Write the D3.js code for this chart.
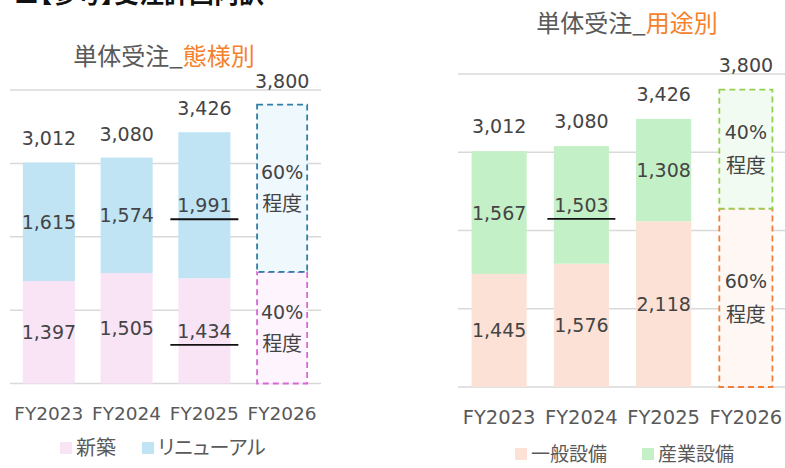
<!DOCTYPE html>
<html>
<head>
<meta charset="utf-8">
<script src="https://cdn.jsdelivr.net/npm/d3@7"></script>
<style>
body { margin: 0; background: #fff; }
svg { display: block; font-family: "DejaVu Sans", "Noto Sans CJK JP", sans-serif; }
.jp { font-family: "Noto Sans CJK JP", sans-serif; font-feature-settings: "palt"; }
</style>
</head>
<body>
<svg width="785" height="468"></svg>
<script>
// data
var years = ["FY2023", "FY2024", "FY2025", "FY2026"];
var ticks = [0, 1000, 2000, 3000, 4000];

// left: by type
var shinchiku = [1397, 1505, 1434];
var renewal = [1615, 1574, 1991];
var totalsL = [3012, 3080, 3426, 3800];
var planShareL = [0.4, 0.6];          // 新築, リニューアル for FY2026
var planLabelL = ["40%", "60%"];
var underlineL = [["FY2025", 0], ["FY2025", 1]];

// right: by use
var ippan = [1445, 1576, 2118];
var sangyo = [1567, 1503, 1308];
var totalsR = [3012, 3080, 3426, 3800];
var planShareR = [0.6, 0.4];          // 一般設備, 産業設備 for FY2026
var planLabelR = ["60%", "40%"];
var underlineR = [["FY2024", 1]];

var svg = d3.select("svg");
var txt = "#444";

svg.append("text").attr("x", 14).attr("y", 3)
  .attr("class", "jp").attr("font-size", 25).attr("font-weight", "bold").attr("fill", "#111")
  .text("■【参考】受注計画内訳");

function drawChart(o) {
  var g = svg.append("g");
  var x = d3.scaleBand().domain(years).range(o.xr).paddingInner(0.33).paddingOuter(0.165);
  var y = d3.scaleLinear().domain([0, 4000]).range(o.yr);

  g.selectAll(".grid").data(ticks).enter().append("line")
    .attr("x1", o.xr[0]).attr("x2", o.xr[1])
    .attr("y1", function(d) { return y(d); }).attr("y2", function(d) { return y(d); })
    .attr("stroke", "#d9d9d9").attr("stroke-width", 1.5);

  // actual stacked bars
  var rows = o.lower.map(function(v, i) { return { yr: years[i], a: v, b: o.upper[i] }; });
  var segs = [];
  rows.forEach(function(r) {
    segs.push({ yr: r.yr, s: 0, y0: 0, y1: r.a, v: r.a });
    segs.push({ yr: r.yr, s: 1, y0: r.a, y1: r.a + r.b, v: r.b });
  });
  g.selectAll(".bar").data(segs).enter().append("rect")
    .attr("x", function(d) { return x(d.yr); })
    .attr("width", x.bandwidth())
    .attr("y", function(d) { return y(d.y1); })
    .attr("height", function(d) { return y(d.y0) - y(d.y1); })
    .attr("fill", function(d) { return o.colors[d.s]; });
  g.selectAll(".val").data(segs).enter().append("text")
    .attr("x", function(d) { return x(d.yr) + x.bandwidth() / 2; })
    .attr("y", function(d) { return (y(d.y0) + y(d.y1)) / 2 + 7; })
    .attr("text-anchor", "middle").attr("font-size", 19).attr("fill", txt)
    .text(function(d) { return d3.format(",")(d.v); });

  // underlines
  o.under.forEach(function(u) {
    var d = segs.filter(function(s) { return s.yr === u[0] && s.s === u[1]; })[0];
    var cx = x(d.yr) + x.bandwidth() / 2, cy = (y(d.y0) + y(d.y1)) / 2 + 14;
    g.append("line").attr("x1", cx - 34).attr("x2", cx + 34).attr("y1", cy).attr("y2", cy)
      .attr("stroke", "#111").attr("stroke-width", 1.8);
  });

  // planned (dashed) bar
  var plan = years[3], tot = o.totals[3];
  var p0 = tot * o.share[0];
  var plans = [{ s: 0, y0: 0, y1: p0, lab: o.planLab[0] }, { s: 1, y0: p0, y1: tot, lab: o.planLab[1] }];
  plans.forEach(function(d) {
    var px = x(plan) + 1, pw = x.bandwidth() - 2;
    g.append("rect").attr("x", px).attr("width", pw)
      .attr("y", y(d.y1)).attr("height", y(d.y0) - y(d.y1))
      .attr("fill", o.planFill[d.s]).attr("stroke", o.planStroke[d.s])
      .attr("stroke-width", 1.8).attr("stroke-dasharray", "6,4");
  });
  plans.forEach(function(d) {
    var cx = x(plan) + x.bandwidth() / 2, cy = (y(d.y0) + y(d.y1)) / 2;
    g.append("text").attr("x", cx).attr("y", cy - o.gap + 7).attr("text-anchor", "middle")
      .attr("font-size", 19).attr("fill", txt).text(d.lab);
    g.append("text").attr("class", "jp").attr("x", cx).attr("y", cy + o.gap + 7).attr("text-anchor", "middle")
      .attr("font-size", 20).attr("fill", txt).text("程度");
  });

  // totals
  g.selectAll(".tot").data(o.totals).enter().append("text")
    .attr("x", function(d, i) { return x(years[i]) + x.bandwidth() / 2; })
    .attr("y", function(d) { return y(d) - o.totOff; })
    .attr("text-anchor", "middle").attr("font-size", 19).attr("fill", txt)
    .text(function(d) { return d3.format(",")(d); });

  // x axis labels
  g.selectAll(".cat").data(years).enter().append("text")
    .attr("x", function(d) { return x(d) + x.bandwidth() / 2; })
    .attr("y", o.catY).attr("text-anchor", "middle").attr("font-size", o.catSize).attr("fill", "#595959")
    .text(function(d) { return d; });

  // title
  var t = g.append("text").attr("class", "jp").attr("x", o.titleX).attr("y", o.titleY)
    .attr("text-anchor", "middle").attr("font-size", 24);
  t.append("tspan").attr("fill", "#595959").text("単体受注_");
  t.append("tspan").attr("fill", "#F5822A").text(o.title);

  // legend
  o.legend.forEach(function(l, i) {
    g.append("rect").attr("x", l[1]).attr("y", o.legY - 6).attr("width", 12).attr("height", 12)
      .attr("fill", o.colors[i]);
    g.append("text").attr("class", "jp").attr("x", l[1] + 16).attr("y", o.legY + 7)
      .attr("font-size", o.legSize).attr("fill", "#595959").text(l[0]);
  });
}

drawChart({
  xr: [10, 321], yr: [383.5, 90],
  lower: shinchiku, upper: renewal, totals: totalsL,
  colors: ["#F9E4F6", "#C0E4F4"],
  planFill: ["#FEF4FD", "#EFF8FD"], planStroke: ["#D966D6", "#2F7FA8"],
  share: planShareL, planLab: planLabelL, under: underlineL,
  gap: 16, totOff: 17, catY: 420, catSize: 18.5,
  title: "態様別", titleX: 164, titleY: 65,
  legend: [["新築", 60], ["リニューアル", 142]], legY: 448, legSize: 20
});

drawChart({
  xr: [458, 787], yr: [387, 74],
  lower: ippan, upper: sangyo, totals: totalsR,
  colors: ["#FCE2D6", "#C3F0C6"],
  planFill: ["#FEF7F3", "#F2FBF1"], planStroke: ["#F07F3C", "#92D050"],
  share: planShareR, planLab: planLabelR, under: underlineR,
  gap: 17, totOff: 18, catY: 424, catSize: 19.5,
  title: "用途別", titleX: 627, titleY: 32,
  legend: [["一般設備", 515], ["産業設備", 642]], legY: 454, legSize: 19
});
</script>
</body>
</html>
